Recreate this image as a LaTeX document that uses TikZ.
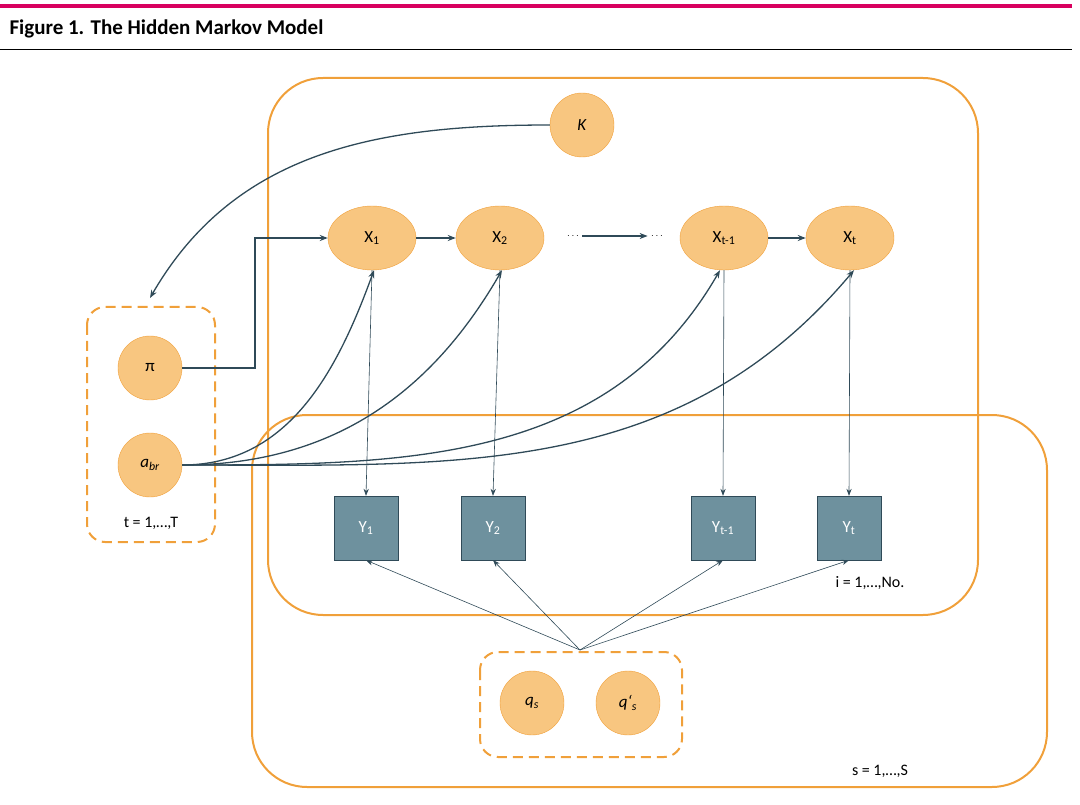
\documentclass[tikz,border=0pt]{standalone}
\usepackage{fontspec}
\setmainfont{Carlito}
\usetikzlibrary{arrows.meta,shapes.geometric}
\definecolor{org}{HTML}{F0A03A}
\definecolor{orf}{HTML}{F8C680}
\definecolor{slate}{HTML}{2F4A58}
\definecolor{yb}{HTML}{6E919E}
\definecolor{pink}{HTML}{D8005F}
\newcommand{\sbx}[1]{\textsubscript{#1}}
\begin{document}
\begin{tikzpicture}[x=1pt,y=-1pt,
  circ/.style={circle,draw=org,fill=orf,minimum size=64pt,inner sep=0,font=\fontsize{17}{17}\selectfont},
  ell/.style={ellipse,draw=org,fill=orf,minimum width=88pt,minimum height=64pt,inner sep=0,font=\fontsize{17}{17}\selectfont},
  sq/.style={rectangle,draw=slate,fill=yb,minimum size=64pt,inner sep=0,text=white,font=\fontsize{17}{17}\selectfont},
  plate/.style={draw=org,line width=2pt,rounded corners=55pt},
  dplate/.style={draw=org,line width=2pt,dashed,dash pattern=on 10pt off 6pt,rounded corners=18pt},
  arr/.style={draw=slate,line width=1.3pt,-{Stealth[length=8pt]}},
  tarr/.style={draw=slate,line width=0.6pt,-{Stealth[length=7pt]}},
  lab/.style={font=\fontsize{16}{16}\selectfont}]
\useasboundingbox (0,0) rectangle (1080,805);
\draw[pink,line width=4pt] (0,6) -- (1072,6);
\node[anchor=west,font=\bfseries\fontsize{21}{21}\selectfont] (title) at (6,29) {Figure 1. The Hidden Markov Model};
\draw[black,line width=1pt] (0,50) -- (1072,50);
\draw[plate] (268,78) rectangle (978,615);
\draw[plate] (252,415) rectangle (1047,787);
\draw[dplate] (87,307) rectangle (215,542);
\draw[dplate] (480,652) rectangle (682,757);
\node[circ] (K) at (582,125) {\textit{K}};
\node[ell] (X1) at (372,238) {X\sbx{1}};
\node[ell] (X2) at (500,238) {X\sbx{2}};
\node[ell] (Xt1) at (724,238) {X\sbx{t-1}};
\node[ell] (Xt) at (850,238) {X\sbx{t}};
\node (d1) at (573,236) {$\cdots$};
\node (d2) at (657,236) {$\cdots$};
\node[circ] (pi) at (150,368) {π};
\node[circ] (a) at (150,465) {\textit{a\sbx{br}}};
\node[sq] (Y1) at (366,528) {Y\sbx{1}};
\node[sq] (Y2) at (493,528) {Y\sbx{2}};
\node[sq] (Yt1) at (723,528) {Y\sbx{t-1}};
\node[sq] (Yt) at (849,528) {Y\sbx{t}};
\node[circ] (q) at (532,703) {\textit{q\sbx{s}}};
\node[circ] (qp) at (628,703) {\textit{q‘\sbx{s}}};
\node[lab] (l1) at (151,523) {t = 1,…,T};
\node[lab] (l2) at (870,583) {i = 1,…,No.};
\node[lab] (l3) at (880,771) {s = 1,…,S};
\coordinate (kt) at (150,298);
\coordinate (pc) at (255,368);
\coordinate (src) at (580,650);
\draw[arr] (K) to[out=180,in=60] (kt);
\draw[arr] (pi.east) -- (pc) |- (X1.west);
\draw[arr] (X1) -- (X2);
\draw[arr] (Xt1) -- (Xt);
\draw[arr] (d1.east) -- (d2.west);
\draw[arr] (a.east) to[out=0,in=-110] ([xshift=2pt]X1.south);
\draw[arr] (a.east) to[out=0,in=-120] ([xshift=2pt]X2.south);
\draw[arr] (a.east) to[out=0,in=-120] ([xshift=-4pt]Xt1.south);
\draw[arr] (a.east) to[out=0,in=-130] ([xshift=4pt]Xt.south);
\foreach \x/\y in {X1/Y1,X2/Y2,Xt1/Yt1,Xt/Yt} \draw[tarr] (\x.south) -- (\y.north);
\foreach \y in {Y1,Y2,Yt1,Yt} \draw[tarr] (src) -- (\y.south);
\end{tikzpicture}
\end{document}
